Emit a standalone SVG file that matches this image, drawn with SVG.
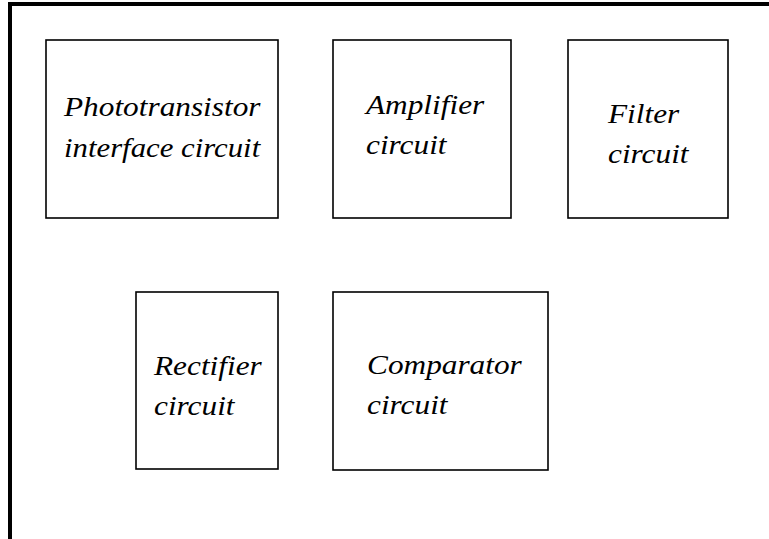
<svg xmlns="http://www.w3.org/2000/svg" width="769" height="539" viewBox="0 0 769 539">
<style>
.box{fill:#fff;stroke:#000;stroke-width:1.6}
.lbl{font-family:"Liberation Serif","Times New Roman",serif;font-style:italic;font-size:27px;fill:#000}
</style>
<rect width="769" height="539" fill="#fff"/>
<path d="M10,539 V4 H769" fill="none" stroke="#000" stroke-width="4"/>
<g id="connectors"></g>
<g id="phototransistor">
<rect class="box" x="46" y="40" width="232" height="178"/>
<text class="lbl" transform="translate(64,116) scale(1.16,1)">Phototransistor</text>
<text class="lbl" transform="translate(64,157) scale(1.14,1)">interface circuit</text>
</g>
<g id="amplifier">
<rect class="box" x="333" y="40" width="178" height="178"/>
<text class="lbl" transform="translate(366,114) scale(1.16,1)">Amplifier</text>
<text class="lbl" transform="translate(366,154) scale(1.16,1)">circuit</text>
</g>
<g id="filter">
<rect class="box" x="568" y="40" width="160" height="178"/>
<text class="lbl" transform="translate(608,123) scale(1.16,1)">Filter</text>
<text class="lbl" transform="translate(608,163) scale(1.16,1)">circuit</text>
</g>
<g id="rectifier">
<rect class="box" x="136" y="292" width="142" height="177"/>
<text class="lbl" transform="translate(154,375) scale(1.16,1)">Rectifier</text>
<text class="lbl" transform="translate(154,415) scale(1.16,1)">circuit</text>
</g>
<g id="comparator">
<rect class="box" x="333" y="292" width="215" height="178"/>
<text class="lbl" transform="translate(367,374) scale(1.16,1)">Comparator</text>
<text class="lbl" transform="translate(367,414) scale(1.16,1)">circuit</text>
</g>
</svg>
